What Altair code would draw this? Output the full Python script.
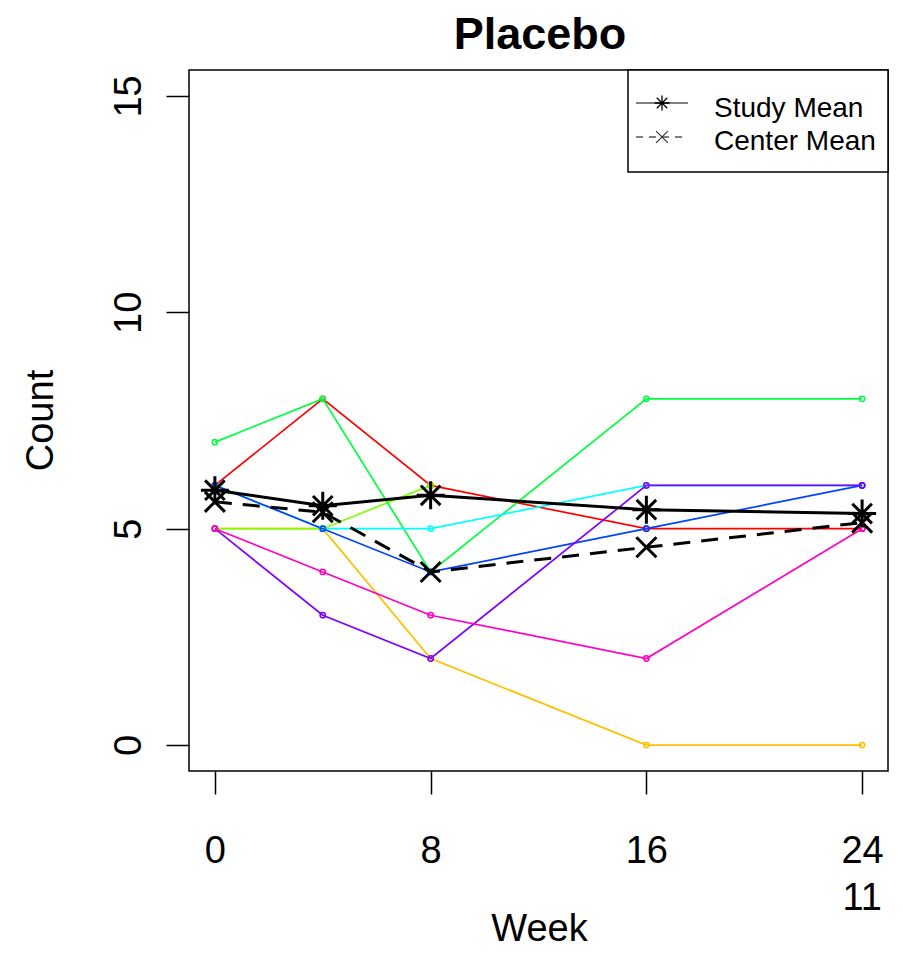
import altair as alt
import pandas as pd

FONT = "Liberation Sans"

# ---- data ----
weeks = [0, 4, 8, 16, 24]
subject_ids = ["S1", "S2", "S3", "S4", "S5", "S6", "S7", "S8"]
subject_colors = ["#FF0000", "#FFBF00", "#80FF00", "#00FF40",
                  "#00FFFF", "#0040FF", "#8000FF", "#FF00BF"]
s1 = [6, 8, 6, 5, 5]
s2 = [5, 5, 2, 0, 0]
s3 = [5, 5, 6, None, None]
s4 = [7, 8, 4, 8, 8]
s5 = [6, 5, 5, 6, 6]
s6 = [6, 5, 4, 5, 6]
s7 = [5, 3, 2, 6, 6]
s8 = [5, 4, 3, 2, 5]
subject_values = [s1, s2, s3, s4, s5, s6, s7, s8]

study_mean = [5.89, 5.53, 5.77, 5.44, 5.35]
center_mean = [5.62, 5.38, 4.00, 4.57, 5.14]

x_ticks = [0, 8, 16, 24]
y_ticks = [0, 5, 10, 15]
n_label_week = [24]
n_label_text = ["11"]
legend_labels = ["Study Mean", "Center Mean"]
chart_title = "Placebo"

# ---- tables ----
rows = []
for sid, vals in zip(subject_ids, subject_values):
    for w, v in zip(weeks, vals):
        if v is not None:
            rows.append({"subject": sid, "week": w, "count": v})
subj_df = pd.DataFrame(rows)
study_df = pd.DataFrame({"week": weeks, "count": study_mean})
center_df = pd.DataFrame({"week": weeks, "count": center_mean})
n_df = pd.DataFrame({"week": n_label_week, "n": n_label_text})

STAR = "M0,-1L0,1M-1,0L1,0M-0.7,-0.7L0.7,0.7M-0.7,0.7L0.7,-0.7"
CROSS = "M-1,-1L1,1M-1,1L1,-1"

x_enc = alt.X(
    "week:Q",
    scale=alt.Scale(domain=[-0.96, 24.96], nice=False, zero=False),
    axis=alt.Axis(values=x_ticks, title="Week", tickSize=23, labelPadding=68,
                  labelBaseline="alphabetic", labelAlign="center", labelAngle=0,
                  labelFlush=False, labelOverlap=False,
                  titleX=350, titleY=169, titleBaseline="alphabetic",
                  titleAlign="center"),
)
y_enc = alt.Y(
    "count:Q",
    scale=alt.Scale(domain=[-0.6, 15.6], nice=False, zero=False),
    axis=alt.Axis(values=y_ticks, title="Count", tickSize=23, labelPadding=26,
                  labelAngle=270, labelAlign="center", labelBaseline="alphabetic",
                  labelFlush=False, labelOverlap=False,
                  titleAngle=270, titleX=-137, titleY=350,
                  titleAlign="center", titleBaseline="alphabetic"),
)
color_enc = alt.Color("subject:N",
                      scale=alt.Scale(domain=subject_ids, range=subject_colors),
                      legend=None)

subj_lines = alt.Chart(subj_df).mark_line(strokeWidth=1.7).encode(
    x=x_enc, y=y_enc, color=color_enc, detail="subject:N")
subj_points = alt.Chart(subj_df).mark_point(
    shape="circle", filled=False, size=28, strokeWidth=1.5, opacity=1
).encode(x=x_enc, y=y_enc, color=color_enc)

center_line = alt.Chart(center_df).mark_line(
    strokeWidth=3, strokeDash=[17, 11], color="black").encode(x=x_enc, y=y_enc)
center_pts = alt.Chart(center_df).mark_point(
    shape=CROSS, size=400, strokeWidth=3, filled=False, color="black", opacity=1
).encode(x=x_enc, y=y_enc)
study_line = alt.Chart(study_df).mark_line(
    strokeWidth=3, color="black").encode(x=x_enc, y=y_enc)
study_pts = alt.Chart(study_df).mark_point(
    shape=STAR, size=784, strokeWidth=3, filled=False, color="black", opacity=1
).encode(x=x_enc, y=y_enc)

n_text = alt.Chart(n_df).mark_text(
    font=FONT, fontSize=38, baseline="alphabetic", align="center", color="black"
).encode(x=x_enc, y=alt.value(840), text="n:N")

one = pd.DataFrame({"k": [0]})

# ---- title, centred over the plot box ----
title_text = alt.Chart(one).mark_text(
    font=FONT, fontSize=45, fontWeight="bold", align="center",
    baseline="alphabetic", color="black"
).encode(x=alt.value(351), y=alt.value(-21), text=alt.value(chart_title))

# ---- legend (top-right, inside the plot box) ----
leg_box = alt.Chart(one).mark_rect(
    fill="white", stroke="black", strokeWidth=1.5
).encode(x=alt.value(439), x2=alt.value(699), y=alt.value(0), y2=alt.value(102))
leg_rule1 = alt.Chart(one).mark_rule(strokeWidth=1, color="black").encode(
    x=alt.value(447), x2=alt.value(499), y=alt.value(33))
leg_rule2 = alt.Chart(one).mark_rule(strokeWidth=1, color="black",
                                     strokeDash=[7, 6]).encode(
    x=alt.value(447), x2=alt.value(499), y=alt.value(67))
leg_sym1 = alt.Chart(one).mark_point(
    shape=STAR, size=225, strokeWidth=1.3, filled=False, color="black", opacity=1
).encode(x=alt.value(473), y=alt.value(33))
leg_sym2 = alt.Chart(one).mark_point(
    shape=CROSS, size=140, strokeWidth=1.2, filled=False, color="#333333", opacity=1
).encode(x=alt.value(473), y=alt.value(67))
leg_txt1 = alt.Chart(one).mark_text(
    font=FONT, fontSize=28, align="left", baseline="alphabetic", color="black"
).encode(x=alt.value(525), y=alt.value(46.5), text=alt.value(legend_labels[0]))
leg_txt2 = alt.Chart(one).mark_text(
    font=FONT, fontSize=28, align="left", baseline="alphabetic", color="black"
).encode(x=alt.value(525), y=alt.value(80), text=alt.value(legend_labels[1]))

chart = alt.layer(
    subj_lines, subj_points, center_line, center_pts, study_line, study_pts,
    n_text, title_text, leg_box, leg_rule1, leg_rule2, leg_sym1, leg_sym2,
    leg_txt1, leg_txt2
).properties(
    width=699,
    height=701,
    autosize=alt.AutoSizeParams(type="none"),
    padding={"left": 181, "top": 62, "right": 7, "bottom": 178},
    background="white",
).configure_view(
    stroke="black", strokeWidth=1.5
).configure_axis(
    domain=False, grid=False, tickColor="black", tickWidth=1.5,
    labelColor="black", titleColor="black", labelFont=FONT, titleFont=FONT,
    labelFontSize=38, titleFontSize=38, titleFontWeight="normal",
)

chart.save("out.html", embed_options={"renderer": "svg", "actions": False})
